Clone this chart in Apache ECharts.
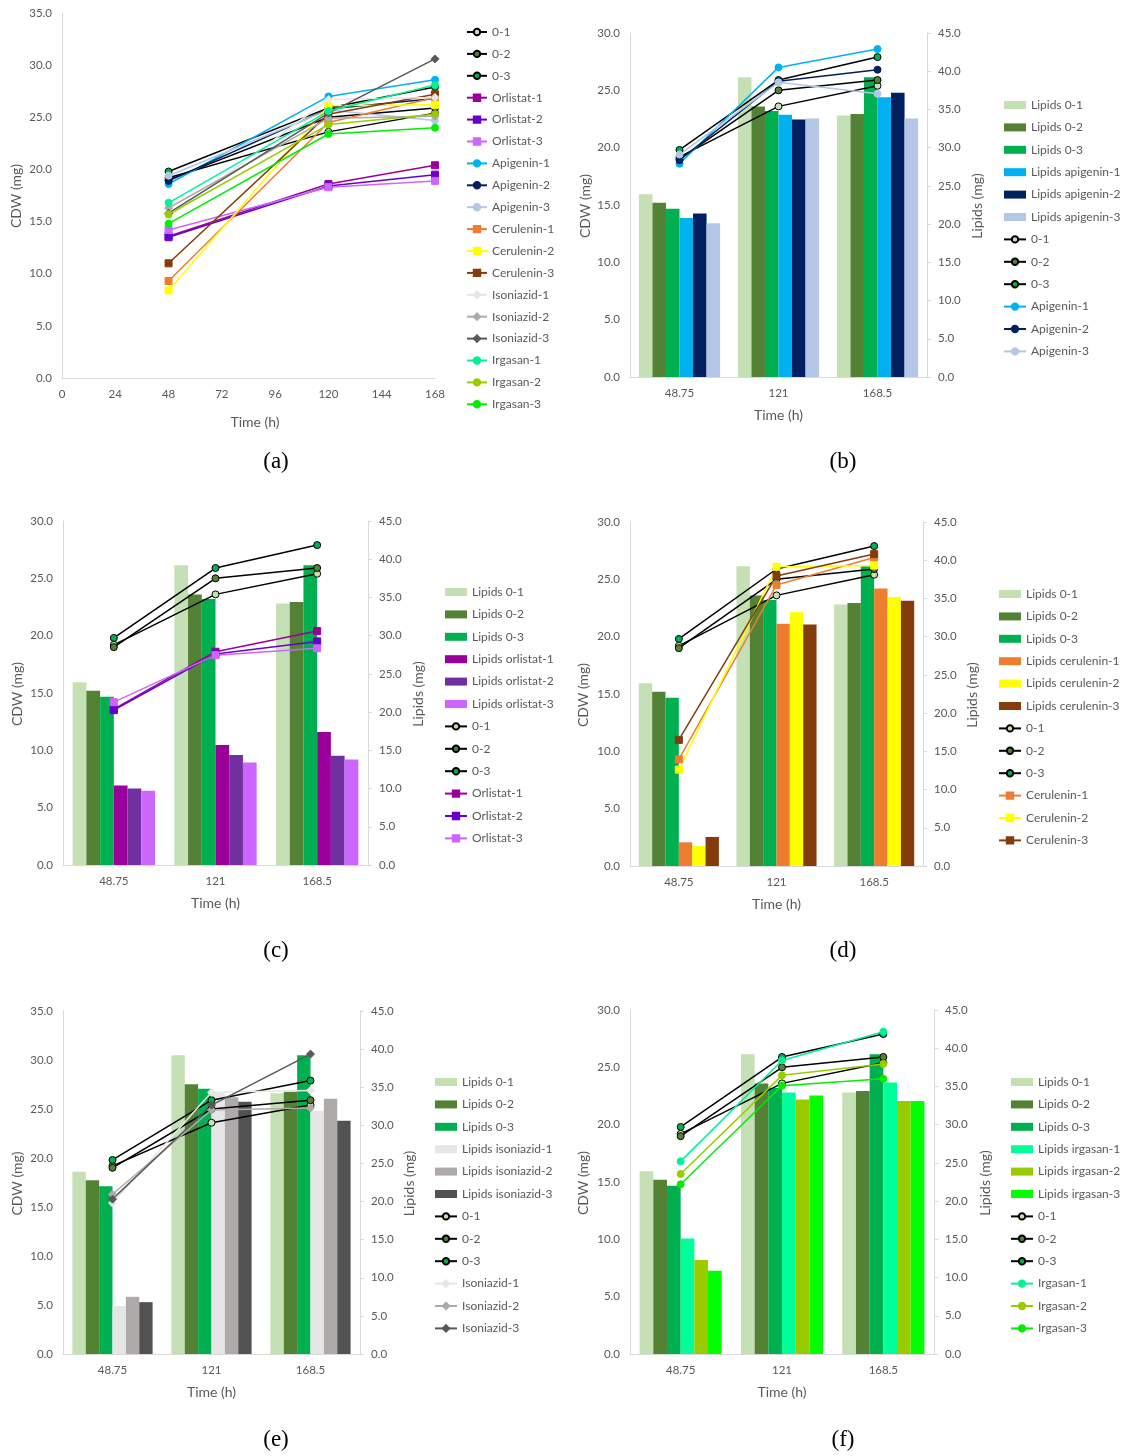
<!DOCTYPE html>
<html>
<head>
<meta http-equiv="Content-Type" content="text/html; charset=utf-8">
<title>CDW and lipids</title>
<script src="https://cdn.jsdelivr.net/npm/echarts@6/dist/echarts.min.js"></script>
<style>
  html, body { margin: 0; padding: 0; background: #fff; }
  #main { width: 1121px; height: 1456px; }
</style>
</head>
<body>
<div id="main"></div>
<script type="text/javascript">
	// sampling times
	var hours = [48, 120, 168];
	var times = ['48.75', '121', '168.5'];

	// CDW (mg), line series
	var cdw0_1 = [19.2, 23.6, 25.4];
	var cdw0_2 = [19.0, 25.0, 25.9];
	var cdw0_3 = [19.8, 25.9, 27.9];
	var cdwOrl1 = [13.6, 18.6, 20.4];
	var cdwOrl2 = [13.5, 18.4, 19.5];
	var cdwOrl3 = [14.2, 18.3, 18.9];
	var cdwApi1 = [18.6, 27.0, 28.6];
	var cdwApi2 = [18.9, 25.8, 26.8];
	var cdwApi3 = [19.4, 25.7, 24.7];
	var cdwCer1 = [9.3, 24.5, 26.9];
	var cdwCer2 = [8.4, 26.1, 26.2];
	var cdwCer3 = [11.0, 25.3, 27.2];
	var cdwIso1 = [15.4, 26.7, 26.9];
	var cdwIso2 = [16.3, 24.9, 25.1];
	var cdwIso3 = [15.8, 25.4, 30.6];
	var cdwIrg1 = [16.8, 25.6, 28.1];
	var cdwIrg2 = [15.7, 24.3, 25.3];
	var cdwIrg3 = [14.8, 23.4, 24.0];

	// Lipids (mg), bar series
	var lip0_1 = [23.9, 39.2, 34.2];
	var lip0_2 = [22.8, 35.4, 34.4];
	var lip0_3 = [22.0, 34.8, 39.2];
	var lipOrl1 = [10.4, 15.7, 17.4];
	var lipOrl2 = [10.0, 14.4, 14.3];
	var lipOrl3 = [9.7, 13.4, 13.8];
	var lipApi1 = [20.8, 34.3, 36.6];
	var lipApi2 = [21.4, 33.7, 37.2];
	var lipApi3 = [20.1, 33.8, 33.8];
	var lipCer1 = [3.1, 31.7, 36.3];
	var lipCer2 = [2.6, 33.2, 35.2];
	var lipCer3 = [3.8, 31.6, 34.7];
	var lipIso1 = [6.3, 34.2, 31.9];
	var lipIso2 = [7.5, 33.7, 33.5];
	var lipIso3 = [6.8, 33.1, 30.6];
	var lipIrg1 = [15.1, 34.2, 35.5];
	var lipIrg2 = [12.3, 33.3, 33.1];
	var lipIrg3 = [10.9, 33.8, 33.1];

	var axisGrey = '#d9d9d9';
	var txt = '#595959';
	var ff = 'Lato, "Liberation Sans", sans-serif';
	var tickSize = 11.5;
	var titleSize = 14;

	var grids = [], xAxes = [], yAxes = [], legends = [], series = [], texts = [];

	function fmt1(v) { return v.toFixed(1); }

	function lineSer(name, data, color, fill, symbol, xi, yi) {
		return {
			name: name, type: 'line', xAxisIndex: xi, yAxisIndex: yi, data: data,
			symbol: symbol, symbolSize: symbol == 'diamond' ? 8 : 7, z: 5,
			lineStyle: { color: color, width: 1.5 },
			itemStyle: { color: fill, borderColor: color, borderWidth: 1 }
		};
	}

	function barSer(name, data, color, xi, yi, gap) {
		return {
			name: name, type: 'bar', xAxisIndex: xi, yAxisIndex: yi, data: data,
			barGap: '0%', barCategoryGap: gap, z: 2,
			itemStyle: { color: color }
		};
	}

	function valAxis(gi, max, pos, ticks) {
		return {
			gridIndex: gi, type: 'value', position: pos, min: 0, max: max, interval: 5,
			axisLine: { show: true, lineStyle: { color: axisGrey, width: 1 } },
			axisTick: { show: ticks, inside: false, length: 4, lineStyle: { color: axisGrey } },
			splitLine: { show: false },
			axisLabel: { color: txt, fontSize: tickSize, fontFamily: ff, margin: pos == 'right' ? 11 : 10, formatter: fmt1 }
		};
	}

	function addText(str, x, y, size, rot, family) {
		texts.push({
			type: 'text', x: x, y: y, rotation: rot || 0,
			style: { text: str, fill: family ? '#000' : txt, fontSize: size, fontFamily: family || ff,
				align: 'center', verticalAlign: 'middle' }
		});
	}

	function legendBox(left, top, names, gap, w) {
		legends.push({
			orient: 'vertical', left: left, top: top, padding: 0, itemWidth: w, itemHeight: 8, itemGap: gap,
			textStyle: { color: txt, fontSize: 12, fontFamily: ff, lineHeight: 14 },
			selectedMode: false,
			data: names.map(function (n) {
				return n.indexOf('Lipids') == 0 ? { name: n, icon: 'rect' } : { name: n };
			})
		});
	}

	// ---------- panel (a): all CDW curves on a time axis ----------
	grids.push({ left: 62, top: 13, width: 373, height: 365 });
	xAxes.push({
		gridIndex: 0, type: 'value', min: 0, max: 168, interval: 24,
		axisLine: { show: true, lineStyle: { color: axisGrey } },
		axisTick: { show: false }, splitLine: { show: false },
		axisLabel: { color: txt, fontSize: tickSize, fontFamily: ff, margin: 10 }
	});
	yAxes.push(valAxis(0, 35, 'left', false));

	function pairs(vals) {
		return hours.map(function (h, i) { return [h, vals[i]]; });
	}

	var groupsA = [
		['0-1', cdw0_1, '#000', '#c5e0b4', 'circle'],
		['0-2', cdw0_2, '#000', '#548235', 'circle'],
		['0-3', cdw0_3, '#000', '#00b050', 'circle'],
		['Orlistat-1', cdwOrl1, '#990099', '#990099', 'rect'],
		['Orlistat-2', cdwOrl2, '#6600cc', '#6600cc', 'rect'],
		['Orlistat-3', cdwOrl3, '#cc66ff', '#cc66ff', 'rect'],
		['Apigenin-1', cdwApi1, '#00b0f0', '#00b0f0', 'circle'],
		['Apigenin-2', cdwApi2, '#002060', '#002060', 'circle'],
		['Apigenin-3', cdwApi3, '#b4c7e7', '#b4c7e7', 'circle'],
		['Cerulenin-1', cdwCer1, '#ed7d31', '#ed7d31', 'rect'],
		['Cerulenin-2', cdwCer2, '#ffff00', '#ffff00', 'rect'],
		['Cerulenin-3', cdwCer3, '#843c0c', '#843c0c', 'rect'],
		['Isoniazid-1', cdwIso1, '#e7e6e6', '#e7e6e6', 'diamond'],
		['Isoniazid-2', cdwIso2, '#aeaaaa', '#aeaaaa', 'diamond'],
		['Isoniazid-3', cdwIso3, '#595959', '#595959', 'diamond'],
		['Irgasan-1', cdwIrg1, '#00f293', '#00f293', 'circle'],
		['Irgasan-2', cdwIrg2, '#99cc00', '#99cc00', 'circle'],
		['Irgasan-3', cdwIrg3, '#00ee00', '#00ee00', 'circle']
	];
	groupsA.forEach(function (g) {
		series.push(lineSer(g[0], pairs(g[1]), g[2], g[3], g[4], 0, 0));
	});
	legendBox(466, 25, groupsA.map(function (g) { return g[0]; }), 7.9, 20);
	addText('CDW (mg)', 16, 196, titleSize, Math.PI / 2);
	addText('Time (h)', 255, 422, titleSize);
	addText('(a)', 276, 462, 23, 0, '"Liberation Serif", serif');

	// ---------- panels (b)-(f): lipid bars + CDW lines ----------
	var ctrlBars = [['Lipids 0-1', lip0_1, '#c5e0b4'], ['Lipids 0-2', lip0_2, '#548235'], ['Lipids 0-3', lip0_3, '#00b050']];
	var ctrlLines = groupsA.slice(0, 3);

	function barPanel(p) {
		var gi = grids.length;
		grids.push(p.grid);
		xAxes.push({
			gridIndex: gi, type: 'category', data: times, boundaryGap: true,
			axisLine: { show: true, lineStyle: { color: axisGrey } },
			axisTick: { show: false },
			axisLabel: { color: txt, fontSize: tickSize, fontFamily: ff, margin: 10 }
		});
		var yl = yAxes.length;
		yAxes.push(valAxis(gi, p.cdwMax, 'left', false));
		yAxes.push(valAxis(gi, 45, 'right', true));
		var bars = ctrlBars.concat(p.bars);
		var lines = ctrlLines.concat(p.lines);
		bars.forEach(function (b) {
			series.push(barSer(b[0], b[1], b[2], gi, yl + 1, p.gap));
		});
		lines.forEach(function (l) {
			series.push(lineSer(l[0], l[1], l[2], l[3], l[4], gi, yl));
		});
		legendBox(p.leg[0], p.leg[1], bars.map(function (b) { return b[0]; }).concat(lines.map(function (l) { return l[0]; })), 8.4, 22);
		var g = p.grid;
		addText('CDW (mg)', p.cdwX, g.top + g.height / 2 + 1, titleSize, Math.PI / 2);
		addText('Lipids (mg)', p.lipX, g.top + g.height / 2 + 1, titleSize, Math.PI / 2);
		addText('Time (h)', g.left + g.width / 2, g.top + g.height + 38, titleSize);
		addText(p.cap, p.capX, p.capY, 23, 0, '"Liberation Serif", serif');
	}

	barPanel({
		grid: { left: 630, top: 33, width: 297, height: 344 }, cdwMax: 30, gap: '18%',
		bars: [['Lipids apigenin-1', lipApi1, '#00b0f0'], ['Lipids apigenin-2', lipApi2, '#002060'], ['Lipids apigenin-3', lipApi3, '#b4c7e7']],
		lines: groupsA.slice(6, 9),
		leg: [1003, 98], cdwX: 585, lipX: 977, cap: '(b)', capX: 843, capY: 462
	});
	barPanel({
		grid: { left: 63, top: 521, width: 305, height: 344 }, cdwMax: 30, gap: '19%',
		bars: [['Lipids orlistat-1', lipOrl1, '#990099'], ['Lipids orlistat-2', lipOrl2, '#7030a0'], ['Lipids orlistat-3', lipOrl3, '#cc66ff']],
		lines: groupsA.slice(3, 6),
		leg: [444, 585], cdwX: 17, lipX: 418, cap: '(c)', capX: 276, capY: 951
	});
	barPanel({
		grid: { left: 630, top: 522, width: 293, height: 344 }, cdwMax: 30, gap: '18%',
		bars: [['Lipids cerulenin-1', lipCer1, '#ed7d31'], ['Lipids cerulenin-2', lipCer2, '#ffff00'], ['Lipids cerulenin-3', lipCer3, '#843c0c']],
		lines: groupsA.slice(9, 12),
		leg: [998, 587], cdwX: 583, lipX: 972, cap: '(d)', capX: 843, capY: 951
	});
	barPanel({
		grid: { left: 63, top: 1011, width: 297, height: 343 }, cdwMax: 35, gap: '19%',
		bars: [['Lipids isoniazid-1', lipIso1, '#e7e6e6'], ['Lipids isoniazid-2', lipIso2, '#aeaaaa'], ['Lipids isoniazid-3', lipIso3, '#525252']],
		lines: groupsA.slice(12, 15),
		leg: [434, 1075], cdwX: 17, lipX: 409, cap: '(e)', capX: 276, capY: 1440
	});
	barPanel({
		grid: { left: 630, top: 1010, width: 304, height: 344 }, cdwMax: 30, gap: '19%',
		bars: [['Lipids irgasan-1', lipIrg1, '#00ff99'], ['Lipids irgasan-2', lipIrg2, '#99cc00'], ['Lipids irgasan-3', lipIrg3, '#00ff00']],
		lines: groupsA.slice(15, 18),
		leg: [1010, 1075], cdwX: 583, lipX: 985, cap: '(f)', capX: 843, capY: 1440
	});

	var chart = echarts.init(document.getElementById('main'));
	chart.setOption({
		backgroundColor: '#fff',
		animation: false,
		grid: grids,
		xAxis: xAxes,
		yAxis: yAxes,
		legend: legends,
		series: series,
		graphic: texts
	});
</script>
</body>
</html>
